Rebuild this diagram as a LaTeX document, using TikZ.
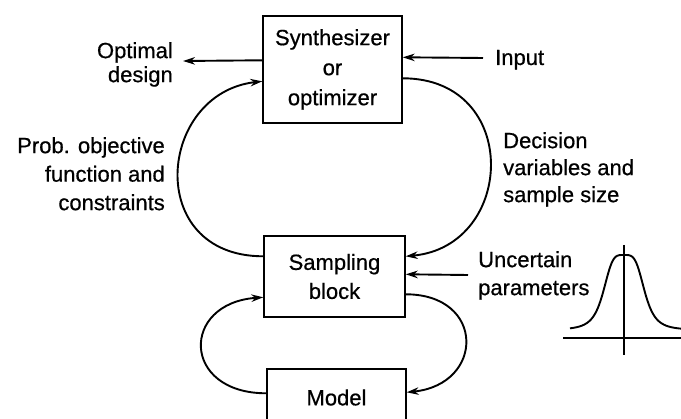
\documentclass[tikz,border=0pt]{standalone}
\usepackage{fontspec}
\setmainfont{Liberation Sans}[FakeBold=0.6]
\usetikzlibrary{arrows.meta,calc}
\begin{document}
\begin{tikzpicture}[x=1pt,y=-1pt,
  blk/.style={draw, line width=1.4pt, inner sep=0pt, align=center, font=\fontsize{22}{30}\selectfont},
  lbl/.style={inner sep=0pt},
  arr/.style={line width=1.9pt, -{Stealth[length=12pt,width=7.5pt]}},
  crv/.style={line width=1.9pt, -{Stealth[length=12pt,width=7.5pt]}},
  axis/.style={line width=1.1pt},
  bell/.style={line width=1.9pt}
]
\useasboundingbox (0,0) rectangle (681,419);
\clip (0,0) rectangle (681,419);

% blocks
\node[blk, minimum width=139pt, minimum height=107pt] (syn) at (332.5,69.5) {Synthesizer\\or\\optimizer};
\node[blk, minimum width=141pt, minimum height=81pt, font=\fontsize{22}{29}\selectfont] (samp) at (334.5,276.5) {Sampling\\block};
\node[blk, minimum width=139pt, minimum height=57pt] (model) at (336.5,397.5) {Model};

% labels
\node[lbl, anchor=north east, align=right, font=\fontsize{22}{24}\selectfont] (optd) at (173,42) {Optimal\\design};
\node[lbl, anchor=base west, font=\fontsize{22}{24}\selectfont] (inp) at (495,65) {Input};
\node[lbl, anchor=north east, align=right, font=\fontsize{22}{28.5}\selectfont] (prob) at (165,137) {Prob. objective\\function and\\constraints};
\node[lbl, anchor=north west, align=left, font=\fontsize{22}{27}\selectfont] (dec) at (503,132) {Decision\\variables and\\sample size};
\node[lbl, anchor=north west, align=left, font=\fontsize{22}{28}\selectfont] (unc) at (478,251) {Uncertain\\parameters};

% free ends
\coordinate (odend) at (183,61);
\coordinate (inst) at (483,58);
\coordinate (uncst) at (468,275);

% straight arrows
\draw[arr] ($(syn.north west)+(0,45)$) -- (odend);
\draw[arr] (inst) -- ($(syn.north east)+(0,42)$);
\draw[arr] (uncst) -- ($(samp.north east)+(0,39)$);

% curved connectors
\draw[crv] ($(syn.north east)+(0,63)$) .. controls +(119,0) and +(110,-10) .. ($(samp.north east)+(0,21)$);
\draw[crv] ($(samp.north west)+(0,21)$) .. controls +(-120,0) and +(-105,12) .. ($(syn.north west)+(0,66)$);
\draw[crv] ($(samp.north east)+(0,59)$) .. controls +(80,0) and +(78,-8) .. ($(model.north east)+(0,24)$);
\draw[crv] ($(model.north west)+(0,25)$) .. controls +(-85,0) and +(-83,6) .. ($(samp.north west)+(0,62)$);

% distribution sketch
\draw[axis] (563,338) -- (681,338);
\draw[axis] (624,245) -- (624,355);
\draw[bell] plot[domain=-54:57, samples=100, smooth] ({624+\x},{330-75/(1+(\x/21)^4)});
\end{tikzpicture}
\end{document}
